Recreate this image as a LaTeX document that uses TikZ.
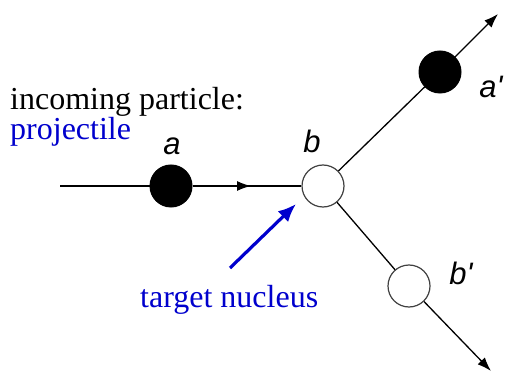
\documentclass[tikz,border=0pt]{standalone}
\usepackage{fontspec}
\setmainfont{Liberation Serif}
\newfontfamily\lblfont{Liberation Sans}
\usetikzlibrary{arrows.meta}
\definecolor{myblue}{RGB}{0,0,205}
\begin{document}
\begin{tikzpicture}[x=1pt,y=-1pt,
  line/.style={line width=1.3pt,black},
  filled/.style={circle,fill=black,draw=black,line width=1pt,minimum size=42pt,inner sep=0pt},
  hollow/.style={circle,fill=white,draw=black!75,line width=1.2pt,minimum size=42pt,inner sep=0pt},
  lbl/.style={font=\lblfont\itshape\fontsize{31}{35}\selectfont,inner sep=0pt},
  txt/.style={font=\fontsize{32}{36}\selectfont,inner sep=0pt,anchor=base west},
  tip/.style={-{Latex[length=14pt,width=10pt]}}]
\useasboundingbox (0,0) rectangle (506,374);
\coordinate (start) at (60,186);
\coordinate (mid) at (251,186);
\coordinate (tipA) at (498,14);
\coordinate (tipB) at (491,371);
\coordinate (bl) at (230,268);
\coordinate (bt) at (296,204);
\node[filled] (a) at (171,186) {};
\node[hollow] (b) at (323,186) {};
\node[filled] (ap) at (440,72) {};
\node[hollow] (bp) at (409,286) {};
\draw[line] (start) -- (a);
\draw[line] (a) -- (b);
\draw[line,tip] (a) -- (mid);
\draw[line] (b) -- (ap);
\draw[line,tip] (ap) -- (tipA);
\draw[line] (b) -- (bp);
\draw[line,tip] (bp) -- (tipB);
\draw[myblue,line width=3.2pt,-{Latex[length=18pt,width=15pt]}] (bl) -- (bt);
\node[lbl] (la) at (172,146) {a};
\node[lbl] (lb) at (312,141) {b};
\node[lbl] (lap) at (491,87) {a'};
\node[lbl] (lbp) at (461,273) {b'};
\node[txt] (t1) at (10,110) {incoming particle:};
\node[txt,text=myblue] (t2) at (10,140) {projectile};
\node[txt,text=myblue] (t3) at (140,307) {target nucleus};
\end{tikzpicture}
\end{document}
